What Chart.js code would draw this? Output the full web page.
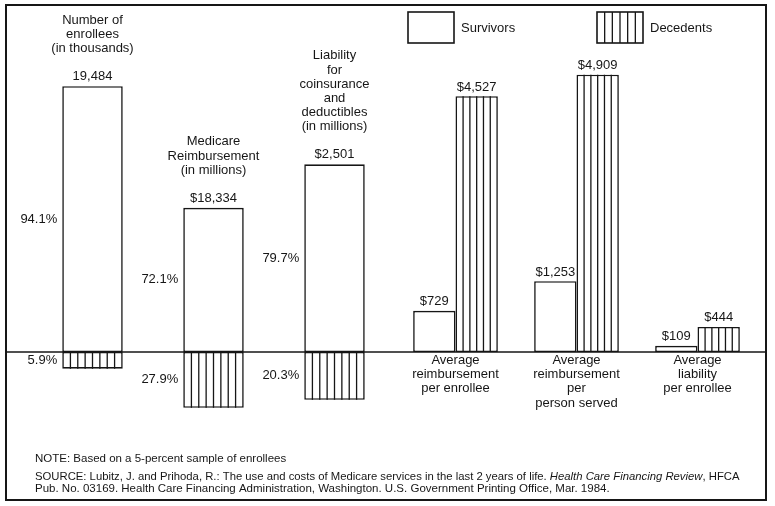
<!DOCTYPE html>
<html>
<head>
<meta charset="utf-8">
<script src="https://cdn.jsdelivr.net/npm/chart.js@4.4.1/dist/chart.umd.min.js"></script>
<style>
  html, body { margin: 0; padding: 0; background: #fff; }
  canvas { display: block; }
</style>
</head>
<body>
<canvas id="chart" width="775" height="506"></canvas>
<script>
// left panels: share of survivors (up) and decedents (down), in percent
const panelTitles = [
    ['Number of', 'enrollees', '(in thousands)'],
    ['Medicare', 'Reimbursement', '(in millions)'],
    ['Liability', 'for', 'coinsurance', 'and', 'deductibles', '(in millions)'],
];
const panelTotals = [19484, 18334, 2501];
const panelUnits = ['', '$', '$'];
const survivorShare = [94.1, 72.1, 79.7];
const decedentShare = [5.9, 27.9, 20.3];

// right panels: averages in dollars
const averageLabels = [
    ['Average', 'reimbursement', 'per enrollee'],
    ['Average', 'reimbursement', 'per', 'person served'],
    ['Average', 'liability', 'per enrollee'],
];
const survivorAverage = [729, 1253, 109];
const decedentAverage = [4527, 4909, 444];

const noteLine = 'NOTE: Based on a 5-percent sample of enrollees';
const sourceLines = [
    ['SOURCE: Lubitz, J. and Prihoda, R.: The use and costs of Medicare services in the last 2 years of life. ', 'Health Care Financing Review', ', HFCA'],
    ['Pub. No. 03169. Health Care Financing Administration, Washington. U.S. Government Printing Office, Mar. 1984.'],
];

const INK = '#161616';
const FONT = '"Liberation Sans", Arial, Helvetica, sans-serif';

Chart.defaults.font.family = FONT;
Chart.defaults.color = INK;

const withCommas = (v) => String(v).replace(/\B(?=(\d{3})+(?!\d))/g, ',');

function onlyAt(index, value, length) {
    return Array.from({ length }, (_, i) => (i === index ? value : null));
}

const nCat = panelTitles.length + averageLabels.length;
const datasets = [];

survivorShare.forEach((v, i) => {
    datasets.push({
        label: 'Survivors',
        role: 'shareUp',
        data: onlyAt(i, v, nCat),
        yAxisID: 'y' + (i + 1),
        stack: 'share',
    });
});
decedentShare.forEach((v, i) => {
    datasets.push({
        label: 'Decedents',
        role: 'shareDown',
        hatched: true,
        data: onlyAt(i, -v, nCat),
        yAxisID: 'y' + (i + 1),
        stack: 'share',
    });
});
datasets.forEach((ds) => {
    ds.categoryPercentage = 1;
    ds.barPercentage = 0.5;
});

datasets.push({
    label: 'Survivors',
    role: 'average',
    data: [...panelTitles.map(() => null), ...survivorAverage],
    yAxisID: 'yD',
    stack: 'surv',
    categoryPercentage: 0.7,
    barPercentage: 1,
});
datasets.push({
    label: 'Decedents',
    role: 'average',
    hatched: true,
    data: [...panelTitles.map(() => null), ...decedentAverage],
    yAxisID: 'yD',
    stack: 'dec',
    categoryPercentage: 0.7,
    barPercentage: 1,
});

datasets.forEach((ds) => {
    ds.backgroundColor = '#fff';
    ds.borderColor = INK;
    ds.borderWidth = 1.6;
    ds.borderSkipped = false;
    ds.skipNull = true;
});

function hatch(ctx, left, right, top, bottom) {
    const w = right - left;
    const n = Math.max(1, Math.round(w / 7.3));
    ctx.beginPath();
    for (let k = 1; k < n; k++) {
        const xx = left + (k * w) / n;
        ctx.moveTo(xx, top);
        ctx.lineTo(xx, bottom);
    }
    ctx.stroke();
}

const barText = {
    id: 'barText',
    afterDatasetsDraw(chart) {
        const ctx = chart.ctx;
        ctx.save();
        ctx.fillStyle = INK;
        ctx.strokeStyle = INK;
        ctx.lineWidth = 1.3;
        ctx.font = '13px ' + FONT;

        chart.data.datasets.forEach((ds, di) => {
            const meta = chart.getDatasetMeta(di);
            meta.data.forEach((bar, i) => {
                const v = ds.data[i];
                if (v === null || v === undefined) {
                    return;
                }
                const { x, y, base, width } = bar.getProps(['x', 'y', 'base', 'width'], true);
                const left = x - width / 2;
                const right = x + width / 2;
                const top = Math.min(y, base);
                const bottom = Math.max(y, base);

                if (ds.hatched) {
                    hatch(ctx, left + 0.8, right - 0.8, top, bottom);
                }

                if (ds.role === 'shareUp' || ds.role === 'shareDown') {
                    const share = ds.role === 'shareUp' ? survivorShare[i] : decedentShare[i];
                    ctx.textAlign = 'right';
                    ctx.textBaseline = 'middle';
                    ctx.fillText(share.toFixed(1) + '%', left - 5, (top + bottom) / 2);
                }

                if (ds.role === 'shareUp') {
                    ctx.textAlign = 'center';
                    ctx.textBaseline = 'middle';
                    const valueY = top - 9.5;
                    ctx.fillText(panelUnits[i] + withCommas(panelTotals[i]), x, valueY);
                    const lines = panelTitles[i];
                    lines.forEach((line, k) => {
                        const yy = valueY - 28 - (lines.length - 1 - k) * 14.2;
                        ctx.fillText(line, x, yy);
                    });
                }

                if (ds.role === 'average') {
                    ctx.textAlign = 'center';
                    ctx.textBaseline = 'middle';
                    ctx.fillText('$' + withCommas(v), x, top - 9);
                }
            });
        });
        ctx.restore();
    },
};

const frame = {
    id: 'frame',
    afterDraw(chart) {
        const ctx = chart.ctx;
        const zeroY = chart.scales.yD.getPixelForValue(0);
        ctx.save();
        ctx.strokeStyle = INK;
        ctx.fillStyle = INK;

        // outer frame and baseline
        ctx.lineWidth = 2;
        ctx.strokeRect(6, 5, 760, 495);
        ctx.lineWidth = 1.6;
        ctx.beginPath();
        ctx.moveTo(6, zeroY);
        ctx.lineTo(766, zeroY);
        ctx.stroke();

        // legend
        const keys = [
            { label: datasets[datasets.length - 2].label, hatched: false, x: 408 },
            { label: datasets[datasets.length - 1].label, hatched: true, x: 597 },
        ];
        ctx.font = '13px ' + FONT;
        ctx.textAlign = 'left';
        ctx.textBaseline = 'middle';
        keys.forEach((k) => {
            ctx.lineWidth = 1.6;
            ctx.strokeRect(k.x, 12, 46, 31);
            if (k.hatched) {
                ctx.lineWidth = 1.3;
                hatch(ctx, k.x, k.x + 46, 12, 43);
            }
            ctx.fillText(k.label, k.x + 53, 28);
        });

        // notes
        ctx.font = '11.5px ' + FONT;
        ctx.fillText(noteLine, 35, 459);
        sourceLines.forEach((parts, li) => {
            const size = li === 0 ? 11.3 : 11.5;
            let xx = 35;
            parts.forEach((part, pi) => {
                ctx.font = (pi === 1 ? 'italic ' : '') + size + 'px ' + FONT;
                ctx.fillText(part, xx, 477 + li * 12.3);
                xx += ctx.measureText(part).width;
            });
        });
        ctx.restore();
    },
};

new Chart(document.getElementById('chart'), {
    type: 'bar',
    data: {
        labels: [...panelTitles, ...averageLabels],
        datasets,
    },
    options: {
        responsive: false,
        animation: false,
        events: [],
        layout: { padding: { left: 32, right: 17, top: 13, bottom: 41 } },
        scales: {
            x: {
                position: { yD: 0 },
                grid: { display: false, drawTicks: false },
                border: { display: false },
                ticks: {
                    autoSkip: false,
                    maxRotation: 0,
                    padding: 1,
                    color: INK,
                    font: { size: 13, lineHeight: 1.1 },
                    callback(value, index) {
                        return index < panelTitles.length ? '' : this.getLabelForValue(value);
                    },
                },
            },
            y1: { display: false, min: -40, max: 120 },
            y2: { display: false, min: -56.5, max: 169.5 },
            y3: { display: false, min: -48, max: 144 },
            yD: { display: false, min: -2000, max: 6000 },
        },
        plugins: {
            legend: { display: false },
            tooltip: { enabled: false },
        },
    },
    plugins: [barText, frame],
});
</script>
</body>
</html>
